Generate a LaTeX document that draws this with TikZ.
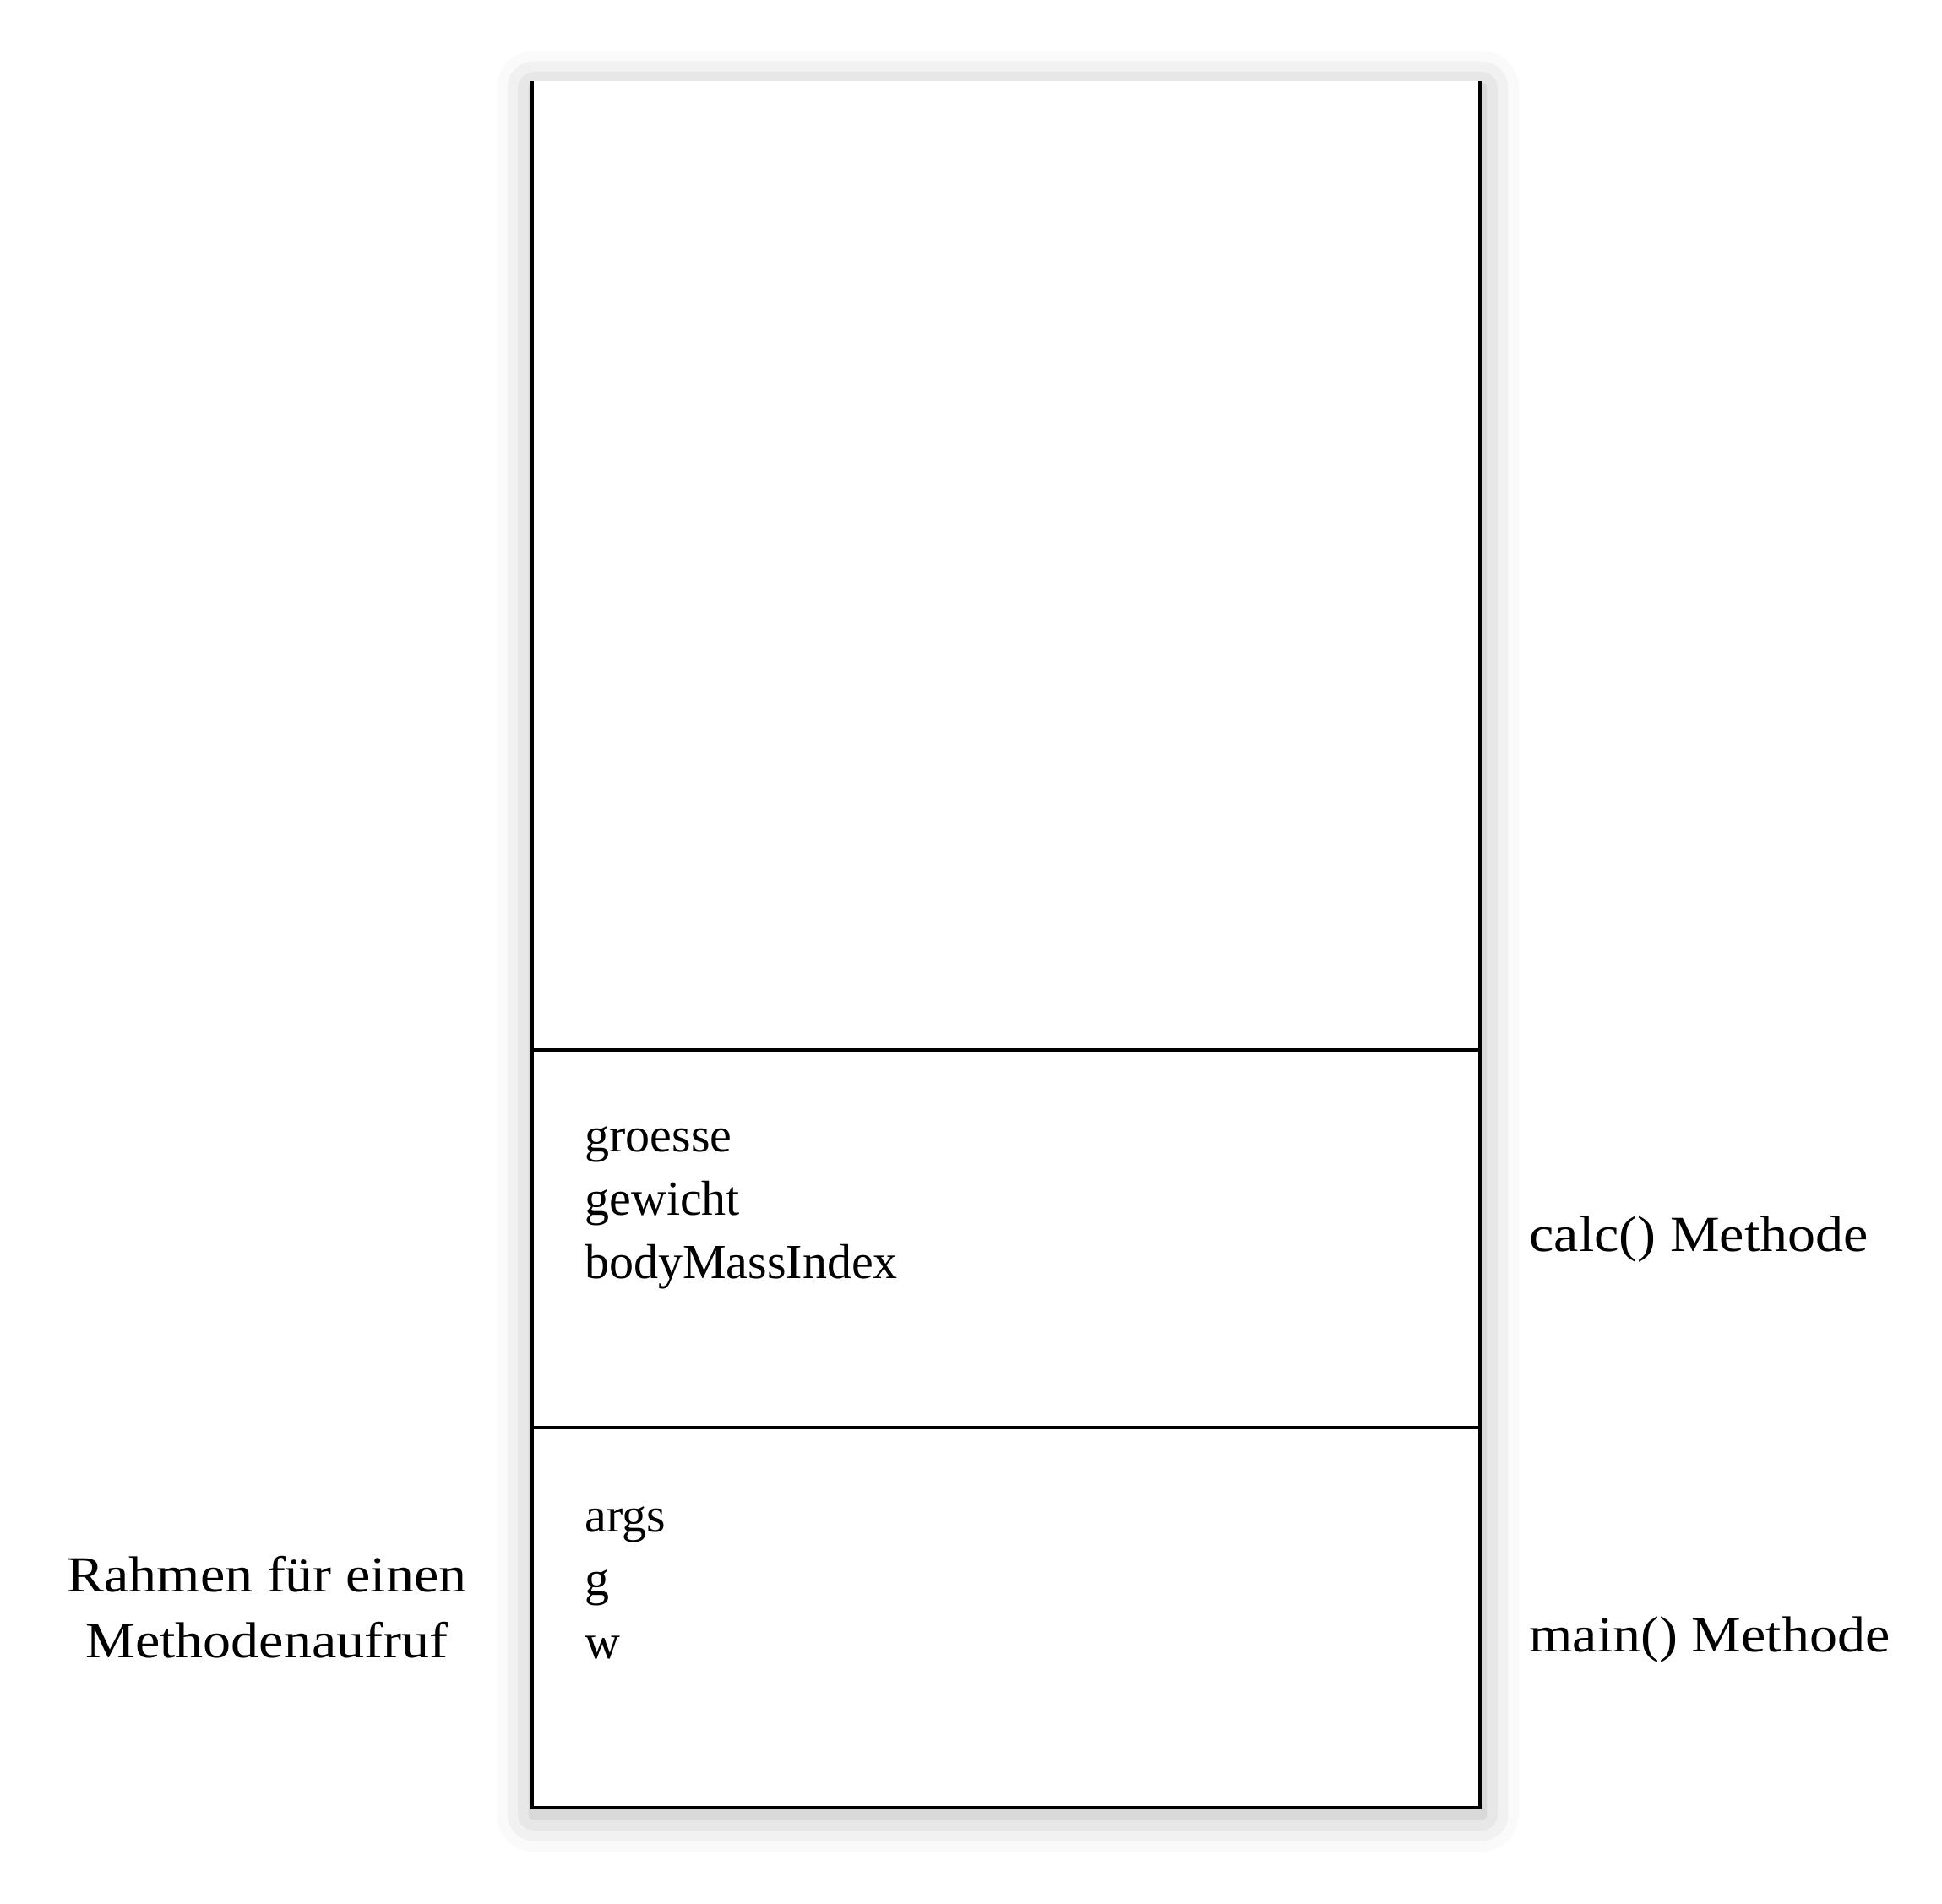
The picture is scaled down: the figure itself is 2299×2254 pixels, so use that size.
\documentclass[tikz,border=0pt]{standalone}
\usepackage{fontspec}
\setmainfont{Liberation Serif}
\newfontfamily\labelfont[FakeStretch=1.1]{Liberation Serif}
\usetikzlibrary{shadows.blur}

\begin{document}
\begin{tikzpicture}[x=0.5pt, y=-0.5pt,
        every node/.style={font=\fontsize{29}{37.5}\selectfont, inner sep=0pt},
        sidelabel/.style={font=\labelfont\fontsize{30}{39}\selectfont},
        frameline/.style={line width=1.7pt, black}]
        \useasboundingbox (0,0) rectangle (2299,2254);
        \coordinate (A) at (630, 96) {};
        \coordinate (B) at (1752, 96) {};
        \coordinate (C) at (1752, 2140) {};
        \coordinate (D) at (630, 2140) {};
        \coordinate (E) at (630, 1243) {};
        \coordinate (F) at (1752, 1243) {};
        \coordinate (G) at (630, 1690) {};
        \coordinate (H) at (1752, 1690) {};
        % stack with shadow
        \path[fill=white, blur shadow={shadow xshift=1pt, shadow yshift=-4pt,
                shadow blur radius=22pt, shadow opacity=30}]
                (A) rectangle (C);
        \draw[frameline] (A)--(D)--(C)--(B);
        \draw[frameline] (E)--(F);
        \draw[frameline] (G)--(H);
        % frame contents (base = last line)
        \node[anchor=base west, align=left] (calcvars) at (692, 1513)
                {groesse\\gewicht\\bodyMassIndex};
        \node[anchor=base west, align=left] (mainvars) at (692, 1963)
                {args\\g\\w};
        % labels
        \node[sidelabel, anchor=base west] (calclabel) at (1810, 1481) {calc() Methode};
        \node[sidelabel, anchor=base west] (mainlabel) at (1810, 1955) {main() Methode};
        \node[sidelabel, anchor=base, align=center] (framelabel) at (316, 1962)
                {Rahmen für einen\\Methodenaufruf};
\end{tikzpicture}
\end{document}
